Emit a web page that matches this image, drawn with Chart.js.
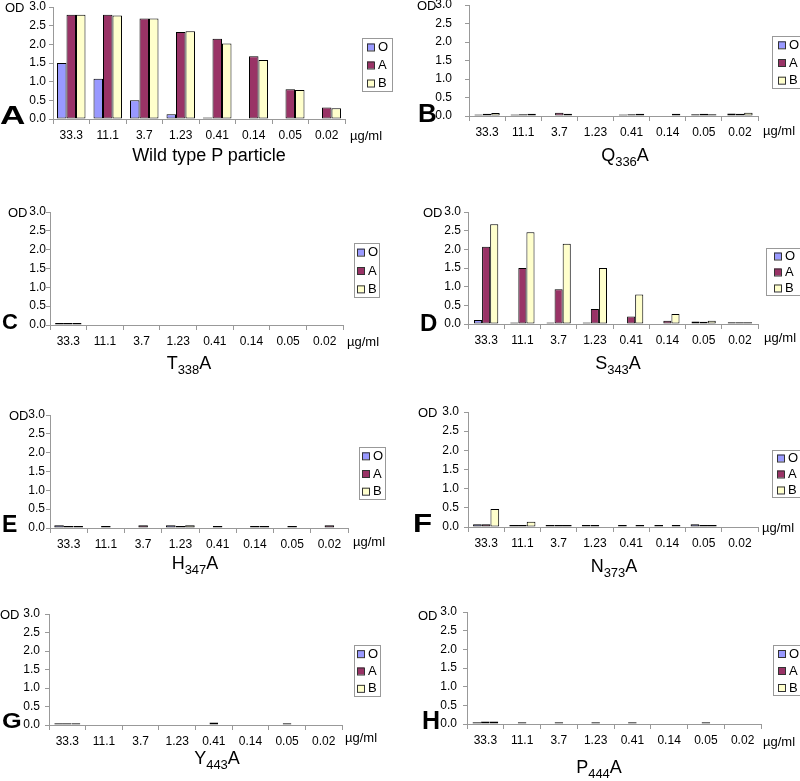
<!DOCTYPE html>
<html>
<head>
<meta charset="utf-8">
<script src="https://cdn.jsdelivr.net/npm/chart.js@4"></script>
<style>
  body { margin: 0; width: 800px; height: 781px; overflow: hidden; background: #fff; position: relative;
         font-family: "Liberation Sans", Arial, sans-serif; color: #000; }
  canvas { position: absolute; }
  .txt { position: absolute; white-space: nowrap; line-height: 1; transform: translateY(-50%); }
  .od { font-size: 13px; }
  .unit { font-size: 13px; }
  .letter { font-weight: bold; transform-origin: left center; }
  .title { font-size: 18px; transform: translate(-50%, -50%); }
  .title sub { font-size: 13px; vertical-align: -5px; line-height: 0; }
</style>
</head>
<body>
<script>
// concentrations on the x axis
const concentrations = ['33.3', '11.1', '3.7', '1.23', '0.41', '0.14', '0.05', '0.02'];
const seriesNames = ['O', 'A', 'B'];
const seriesColors = ['#9999FF', '#993366', '#FFFFCC'];
const yTicks = [0, 0.5, 1.0, 1.5, 2.0, 2.5, 3.0];

// A - Wild type P particle
const wildTypeO = [1.5, 1.08, 0.5, 0.13, 0.04, 0, 0, 0];
const wildTypeA = [2.79, 2.79, 2.69, 2.33, 2.15, 1.68, 0.8, 0.31];
const wildTypeB = [2.79, 2.77, 2.69, 2.35, 2.02, 1.58, 0.78, 0.29];
// B - Q336A
const q336O = [0.04, 0.04, 0, 0, 0.04, 0, 0.05, 0.07];
const q336A = [0.06, 0.05, 0.09, 0, 0.05, 0, 0.06, 0.06];
const q336B = [0.08, 0.06, 0.06, 0, 0.06, 0.06, 0.05, 0.09];
// C - T338A
const t338O = [0.05, 0, 0, 0, 0, 0, 0, 0];
const t338A = [0.05, 0, 0, 0, 0, 0, 0, 0];
const t338B = [0.05, 0, 0, 0, 0, 0, 0, 0];
// D - S343A
const s343O = [0.11, 0.04, 0.04, 0.04, 0, 0, 0.07, 0.05];
const s343A = [2.07, 1.5, 0.93, 0.4, 0.2, 0.09, 0.06, 0.05];
const s343B = [2.67, 2.46, 2.15, 1.5, 0.79, 0.27, 0.09, 0.05];
// E - H347A
const h347O = [0.07, 0, 0, 0.07, 0, 0, 0, 0];
const h347A = [0.05, 0.05, 0.07, 0.05, 0.05, 0.05, 0.05, 0.07];
const h347B = [0.05, 0, 0, 0.07, 0, 0.05, 0, 0];
// F - N373A
const n373O = [0.07, 0.05, 0.05, 0.05, 0.05, 0.05, 0.07, 0];
const n373A = [0.07, 0.05, 0.05, 0.05, 0, 0, 0.05, 0];
const n373B = [0.47, 0.14, 0.05, 0, 0.05, 0.05, 0.05, 0];
// G - Y443A
const y443O = [0.05, 0, 0, 0, 0, 0, 0, 0];
const y443A = [0.05, 0, 0, 0, 0.07, 0, 0.05, 0];
const y443B = [0.05, 0, 0, 0, 0, 0, 0, 0];
// H - P444A
const p444O = [0.05, 0, 0, 0, 0, 0, 0, 0];
const p444A = [0.07, 0.05, 0.05, 0.05, 0.05, 0, 0.05, 0];
const p444B = [0.07, 0, 0, 0, 0, 0, 0, 0];

// layout of the eight panels (page pixels)
const panels = [
  { letter: 'A', title: 'Wild type P particle', values: [wildTypeO, wildTypeA, wildTypeB],
    box: [0, 0, 195], plot: [53, 7, 345, 119], legend: [362, 38, 30, 53], od: [5, 7], pad: 3,
    mark: [0, 115, 26, 1.35], unit: [350, 135], at: [209, 155], cat: 0.78 },
  { letter: 'B', title: 'Q<sub>336</sub>A', values: [q336O, q336A, q336B],
    box: [400, 0, 195], plot: [469, 5, 758, 116], legend: [772, 36, 32, 52], od: [417, 5], pad: 13,
    mark: [418, 113, 26, 1], unit: [763, 130], at: [625, 155], cat: 0.7 },
  { letter: 'C', title: 'T<sub>338</sub>A', values: [t338O, t338A, t338B],
    box: [0, 195, 200], plot: [50, 212, 343, 325], legend: [354, 243, 25, 54], od: [8, 212], pad: 0,
    mark: [2, 322, 22, 1], unit: [347, 341], at: [189, 363], cat: 0.72 },
  { letter: 'D', title: 'S<sub>343</sub>A', values: [s343O, s343A, s343B],
    box: [400, 195, 200], plot: [468, 212, 758, 324], legend: [766, 248, 36, 47], od: [423, 212], pad: 3,
    mark: [420, 323, 24, 1], unit: [764, 337], at: [618, 363], cat: 0.67 },
  { letter: 'E', title: 'H<sub>347</sub>A', values: [h347O, h347A, h347B],
    box: [0, 395, 195], plot: [50, 415, 348, 528], legend: [359, 447, 26, 52], od: [9, 415], pad: 1,
    mark: [2, 524, 23, 1], unit: [353, 541], at: [195, 563], cat: 0.77 },
  { letter: 'F', title: 'N<sub>373</sub>A', values: [n373O, n373A, n373B],
    box: [400, 395, 195], plot: [468, 412, 758, 527], legend: [772, 450, 30, 47], od: [418, 412], pad: 5,
    mark: [413, 523, 25, 1.25], unit: [762, 527], at: [614, 566], cat: 0.72 },
  { letter: 'G', title: 'Y<sub>443</sub>A', values: [y443O, y443A, y443B],
    box: [0, 590, 191], plot: [49, 614, 342, 725], legend: [354, 645, 26, 51], od: [0, 614], pad: 5,
    mark: [2, 721, 22, 1.15], unit: [345, 737], at: [217, 758], cat: 0.71 },
  { letter: 'H', title: 'P<sub>444</sub>A', values: [p444O, p444A, p444B],
    box: [400, 590, 191], plot: [467, 612, 761, 724], legend: [773, 645, 30, 50], od: [418, 615], pad: 6,
    mark: [422, 720, 25, 1], unit: [763, 741], at: [599, 767], cat: 0.7 }
];

Chart.defaults.font.family = '"Liberation Sans", Arial, sans-serif';
Chart.defaults.font.size = 12;
Chart.defaults.color = '#000';

// framed legend like the Excel one, drawn from the chart's datasets
const boxLegend = {
  id: 'boxLegend',
  afterDraw(chart, args, opts) {
    const ctx = chart.ctx;
    const [x, y, w, h] = opts.rect;
    const lx = x - opts.origin[0], ly = y - opts.origin[1];
    ctx.save();
    ctx.strokeStyle = '#999';
    ctx.lineWidth = 1;
    ctx.strokeRect(lx + 0.5, ly + 0.5, w, h);
    ctx.font = '13px "Liberation Sans", Arial, sans-serif';
    ctx.textBaseline = 'middle';
    const left = lx + Math.max(3, (w - 20) / 2);
    chart.data.datasets.forEach((ds, i) => {
      const cy = ly + h / 2 + (i - 1) * h * 0.34;
      ctx.fillStyle = ds.backgroundColor;
      ctx.fillRect(left, cy - 3, 7, 7);
      ctx.strokeStyle = '#333';
      ctx.strokeRect(left + 0.5, cy - 2.5, 7, 7);
      ctx.fillStyle = '#000';
      ctx.fillText(ds.label, left + 11, cy + 1);
    });
    ctx.restore();
  }
};

function addText(cls, html, x, y, extra) {
  const d = document.createElement('div');
  d.className = 'txt ' + cls;
  d.innerHTML = html;
  d.style.left = x + 'px';
  d.style.top = y + 'px';
  if (extra) Object.assign(d.style, extra);
  document.body.appendChild(d);
}

const axisW = 40, axisH = 24;

panels.forEach(p => {
  const [bx, by, bh] = p.box;
  const [l, t, r, b] = p.plot;
  const cv = document.createElement('canvas');
  cv.width = 400;
  cv.height = bh;
  cv.style.left = bx + 'px';
  cv.style.top = by + 'px';
  document.body.appendChild(cv);

  new Chart(cv, {
    type: 'bar',
    data: {
      labels: concentrations,
      datasets: seriesNames.map((name, i) => ({
        label: name,
        data: p.values[i],
        backgroundColor: seriesColors[i],
        borderColor: '#000',
        borderWidth: 1,
        borderSkipped: false,
        categoryPercentage: p.cat,
        barPercentage: 1
      }))
    },
    options: {
      responsive: false,
      animation: false,
      layout: {
        autoPadding: false,
        padding: { left: l - bx - axisW, top: t - by, right: bx + 400 - r, bottom: by + bh - b - axisH }
      },
      plugins: {
        legend: { display: false },
        tooltip: { enabled: false },
        boxLegend: { rect: p.legend, origin: [bx, by] }
      },
      scales: {
        x: {
          grid: { drawOnChartArea: false, offset: true, tickLength: 5, color: '#999' },
          border: { color: '#999' },
          ticks: { padding: 4, maxRotation: 0, autoSkip: false },
          afterFit: s => { s.height = axisH; }
        },
        y: {
          min: 0, max: 3,
          afterBuildTicks: s => { s.ticks = yTicks.map(v => ({ value: v })); },
          ticks: { padding: p.pad, autoSkip: false, callback: v => v.toFixed(1) },
          grid: { drawOnChartArea: false, tickLength: 4, color: '#999' },
          border: { color: '#999' },
          // keep the plot box exactly where the layout puts it
          afterFit: s => { s.width = axisW; s.paddingTop = 0; s.paddingBottom = 0; }
        }
      }
    },
    plugins: [boxLegend]
  });

  addText('od', 'OD', p.od[0], p.od[1]);
  addText('unit', 'µg/ml', p.unit[0], p.unit[1]);
  addText('letter', p.letter, p.mark[0], p.mark[1],
    { fontSize: p.mark[2] + 'px', transform: 'translateY(-50%) scaleX(' + p.mark[3] + ')' });
  addText('title', p.title, p.at[0], p.at[1]);
});
</script>
</body>
</html>
